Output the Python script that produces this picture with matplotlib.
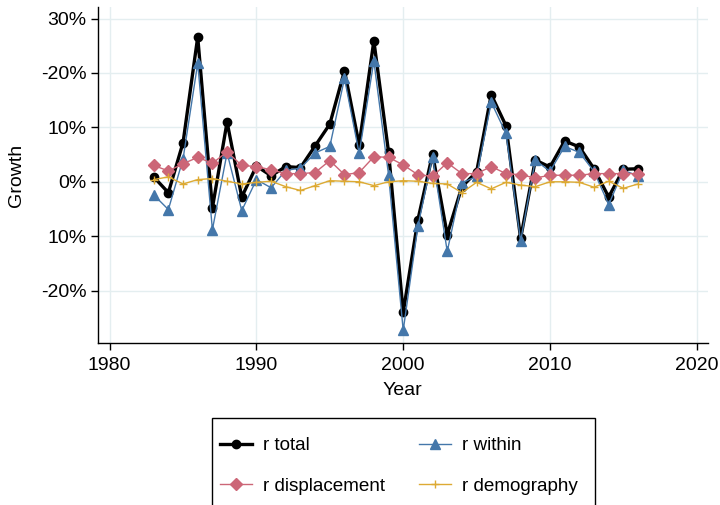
import matplotlib
matplotlib.use("Agg")
import matplotlib.pyplot as plt
from matplotlib.patches import Rectangle

plt.rcParams['font.family'] = ['Liberation Sans', 'DejaVu Sans']

years = list(range(1983, 2017))
r_total = [0.9, -2.0, 7.2, 26.6, -4.8, 11.0, -2.8, 2.9, 1.1, 2.8, 2.6, 6.6, 10.6, 20.4,
           6.8, 25.9, 5.5, -24.0, -7.0, 5.1, -9.7, -0.9, 1.8, 16.0, 10.3, -10.4, 4.0,
           2.7, 7.5, 6.4, 2.4, -2.8, 2.3, 2.4]
r_within = [-2.4, -5.1, 4.2, 21.8, -8.8, 5.3, -5.3, 0.4, -1.1, 2.1, 2.5, 5.3, 6.5, 19.0,
            5.2, 22.2, 1.3, -27.3, -8.2, 4.6, -12.8, -0.2, 1.0, 14.6, 8.9, -10.9, 4.0,
            1.9, 6.5, 5.4, 1.9, -4.2, 2.1, 1.1]
r_displacement = [3.0, 2.0, 3.3, 4.5, 3.4, 5.5, 3.0, 2.8, 2.2, 1.5, 1.5, 1.7, 3.9, 1.3,
                  1.7, 4.6, 4.5, 3.1, 1.3, 1.0, 3.5, 1.5, 1.5, 2.8, 1.5, 1.3, 0.7,
                  1.2, 1.2, 1.2, 1.5, 1.5, 1.5, 1.5]
r_demography = [0.4, 0.9, -0.4, 0.4, 0.6, 0.1, -0.4, -0.1, 0.1, -0.9, -1.6, -0.7, 0.2, 0.1,
                0.0, -0.7, 0.0, 0.2, 0.1, -0.3, -0.4, -2.0, -0.1, -1.3, -0.1, -0.6, -0.9,
                0.0, 0.0, -0.1, -1.0, 0.1, -1.2, -0.4]

ytick_vals = [30, 20, 10, 0, -10, -20]
ytick_labels = ["30%", "-20%", "10%", "0%", "10%", "-20%"]
xtick_vals = [1980, 1990, 2000, 2010, 2020]

c_total = "black"
c_within = "#4477AA"
c_disp = "#CC6677"
c_demo = "#DDAA33"

FS = 14
LFS = 13.6
W, H = 720, 505

fig = plt.figure(figsize=(7.2, 5.05), dpi=100)
ax = fig.add_axes([0.136, 0.321, 0.847, 0.665])

h_total, = ax.plot(years, r_total, color=c_total, lw=2.4, marker='o', ms=6, label='r total', zorder=3)
h_within, = ax.plot(years, r_within, color=c_within, lw=1.0, marker='^', ms=7, label='r within', zorder=4)
h_disp, = ax.plot(years, r_displacement, color=c_disp, lw=1.0, marker='D', ms=6.5, label='r displacement', zorder=5)
h_demo, = ax.plot(years, r_demography, color=c_demo, lw=1.0, marker='+', ms=6, mew=1.0, label='r demography', zorder=6)

ax.set_xlim(1979.2, 2020.75)
ax.set_ylim(-29.6, 32.1)
ax.set_yticks(ytick_vals)
ax.set_yticklabels(ytick_labels)
ax.set_xticks(xtick_vals)
ax.grid(True, color="#e4eef0", lw=1.0, zorder=0)
ax.set_axisbelow(True)
for s in ['top', 'right']:
    ax.spines[s].set_visible(False)
for s in ['left', 'bottom']:
    ax.spines[s].set_color('black')
    ax.spines[s].set_linewidth(1.0)
ax.tick_params(axis='both', direction='out', length=5, width=1.0, labelsize=FS, colors='black', pad=3)
ax.tick_params(axis='x', pad=5)
ax.set_xlabel("Year", fontsize=FS, labelpad=6)
ax.set_ylabel("Growth", fontsize=FS, labelpad=12)

# legend frame (extends past the bottom of the figure, as in the reference)
fig.patches.append(Rectangle((212 / W, -0.05), (595 - 212) / W, 0.05 + 1 - 418 / H,
                             transform=fig.transFigure, fill=False, edgecolor='black',
                             lw=1.0, zorder=1))

handles = [h_total, h_disp, h_within, h_demo]
labels = [h.get_label() for h in handles]
leg = fig.legend(handles, labels, loc='upper left', bbox_to_anchor=(220 / W, 1 - 437 / H),
                 ncol=2, frameon=False, fontsize=LFS,
                 handlelength=1.7, columnspacing=1.75, labelspacing=1.25,
                 borderpad=0, handletextpad=0.6, borderaxespad=0)

fig.savefig("out.png", dpi=100)
